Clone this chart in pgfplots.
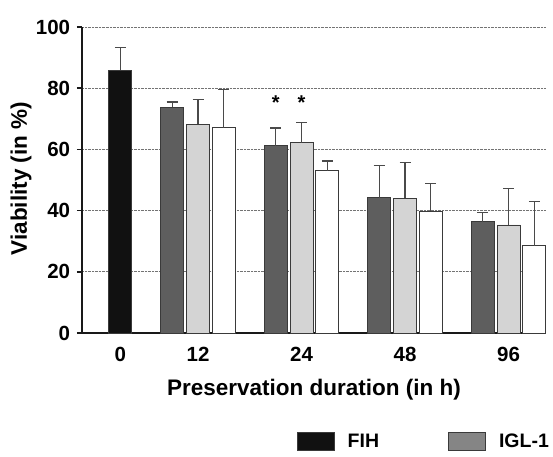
\documentclass[border=0pt]{standalone}
\usepackage{fontspec}
\setmainfont{Liberation Sans}
\usepackage{pgfplots}
\pgfplotsset{compat=1.18}
\usepackage{pgfplotstable}

\definecolor{fihc}{HTML}{111111}
\definecolor{darkc}{HTML}{5E5E5E}
\definecolor{lightc}{HTML}{D4D4D4}
\definecolor{legc}{HTML}{858585}
\definecolor{edgec}{HTML}{3A3A3A}
\definecolor{errc}{HTML}{4A4A4A}

% x = bar position (group index -/+ 0.25), y = mean, e = upper error
\pgfplotstableread{
x     y     e
0.25  85.8  7.5
}\fih
\pgfplotstableread{
x     y     e
0.75  73.8  1.7
1.75  61.2  5.8
2.75  44.2  10.6
3.75  36.4  2.9
}\darkbars
\pgfplotstableread{
x     y     e
1.00  68.2  8.2
2.00  62.2  6.7
3.00  44.0  11.8
4.00  35.3  11.8
}\lightbars
\pgfplotstableread{
x     y     e
1.25  67.1  12.5
2.25  53.0  3.2
3.25  39.8  9.2
4.25  28.5  14.4
}\whitebars

\begin{document}
\fontsize{20bp}{24bp}\selectfont\bfseries
\begin{tikzpicture}
\path[use as bounding box] (-82bp,-124bp) rectangle (471bp,306bp+27bp);
\begin{axis}[
    scale only axis,
    width=464bp, height=306bp,
    xmin=-0.121, xmax=4.362,
    ymin=0, ymax=100,
    axis x line*=bottom, axis y line*=left,
    axis line style={line width=1.6bp, black!90},
    xtick={0.25,1,2,3,4},
    xticklabels={0,12,24,48,96},
    x tick style={draw=none},
    ytick={0,20,40,60,80,100},
    tick align=outside,
    major tick length=5bp,
    y tick style={line width=1.4bp, black!90},
    ymajorgrids,
    grid style={densely dotted, line width=0.9bp, black!55},
    /pgf/number format/assume math mode=true,
    ticklabel style={font=\fontsize{20.5bp}{24bp}\selectfont\bfseries, text=black},
    xticklabel style={yshift=-2bp},
    yticklabel style={xshift=0bp},
    xlabel={Preservation duration (in h)},
    ylabel={Viability (in \%)},
    label style={font=\fontsize{22.5bp}{26bp}\selectfont\bfseries, text=black},
    xlabel style={at={(axis description cs:0.5,-0.1865)}, anchor=center},
    ylabel style={at={(axis description cs:-0.1315,0.505)}, anchor=center},
    legend columns=2,
    legend style={draw=none, fill=none, at={(axis description cs:0.463,-0.356)},
        anchor=west, inner sep=0pt, outer sep=0pt,
        font=\fontsize{19.5bp}{24bp}\selectfont\bfseries, text=black,
        nodes={inner sep=0pt},
        /tikz/every odd column/.append style={column sep=13bp},
        /tikz/every even column/.append style={column sep=69bp}},
    legend cell align=left,
    legbox/.style={legend image code/.code={\draw[##1] (0bp,-9bp) rectangle (37bp,9bp);}},
    barstyle/.style={ybar, bar width=0.222, bar shift=0pt, draw=edgec, line width=0.9bp,
        error bars/y dir=plus, error bars/y explicit,
        error bars/error bar style={line width=1.1bp, errc},
        error bars/error mark options={rotate=90, errc, line width=1.1bp, mark size=5.5bp}},
    clip=false,
]
\addplot[barstyle, fill=fihc, legbox] table[x=x, y=y, y error=e] {\fih};
\addplot[barstyle, fill=darkc, forget plot] table[x=x, y=y, y error=e] {\darkbars};
\addplot[barstyle, fill=lightc, forget plot] table[x=x, y=y, y error=e] {\lightbars};
\addplot[barstyle, fill=white, forget plot] table[x=x, y=y, y error=e] {\whitebars};
\addlegendimage{legbox, fill=legc, draw=edgec, line width=0.9bp}
\legend{FIH, IGL-1}
\node[anchor=north, inner sep=0pt, text=black] at (axis cs:1.75,77.7) {*};
\node[anchor=north, inner sep=0pt, text=black] at (axis cs:2.00,77.7) {*};
\end{axis}
\end{tikzpicture}
\end{document}
